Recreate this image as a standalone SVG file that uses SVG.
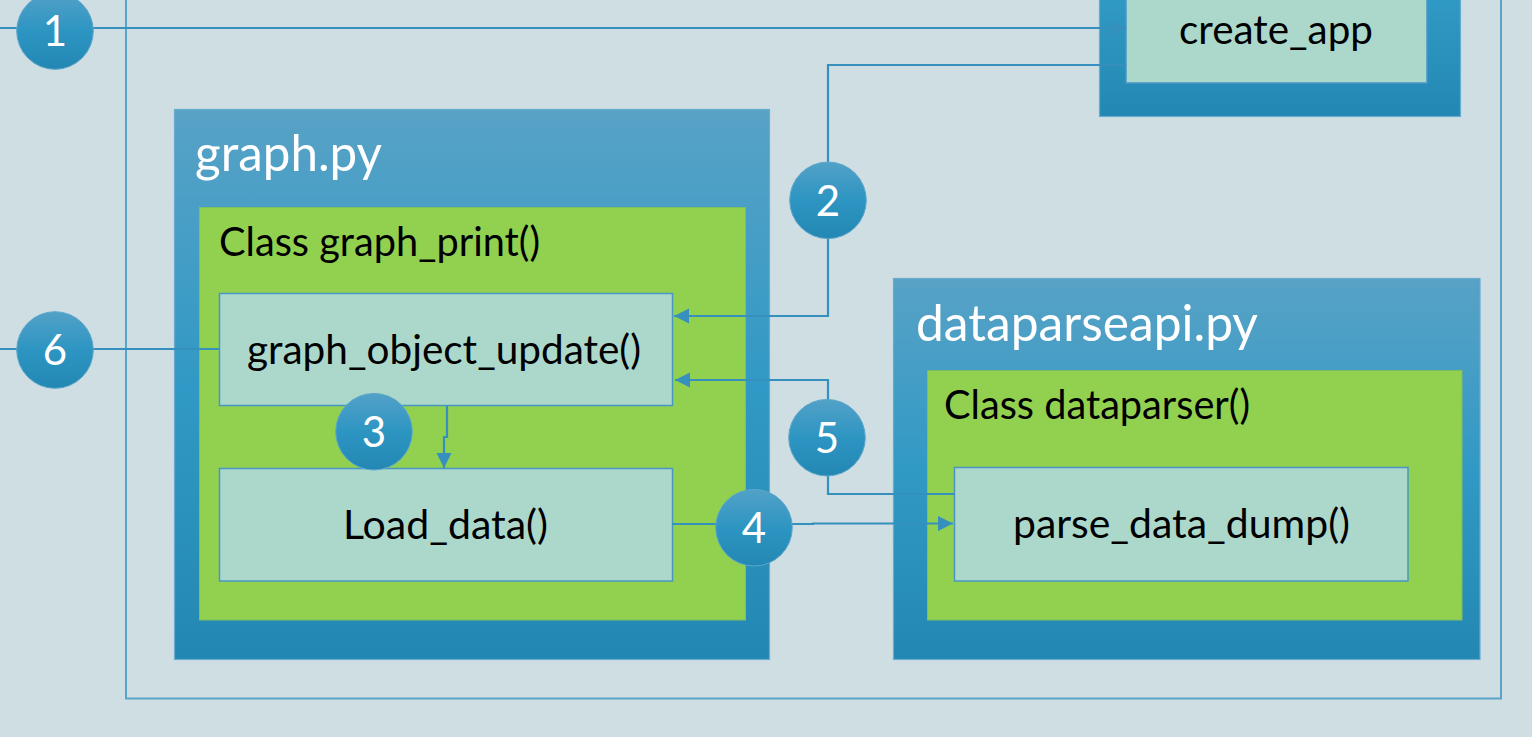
<svg xmlns="http://www.w3.org/2000/svg" width="1532" height="737" viewBox="0 0 1532 737">
  <defs>
    <linearGradient id="moduleFill" x1="0" y1="0" x2="0" y2="1">
      <stop offset="0" stop-color="#58A2C6"/>
      <stop offset="0.5" stop-color="#3199C5"/>
      <stop offset="1" stop-color="#2387B3"/>
    </linearGradient>
    <linearGradient id="badgeFill" x1="0" y1="0" x2="0" y2="1">
      <stop offset="0" stop-color="#52A1C7"/>
      <stop offset="0.5" stop-color="#2D95C2"/>
      <stop offset="1" stop-color="#2387B3"/>
    </linearGradient>
    <marker id="arrow" viewBox="0 0 16 16" refX="15" refY="8" markerWidth="16" markerHeight="16" markerUnits="userSpaceOnUse" orient="auto">
      <path d="M0,0.5 L15,8 L0,15.5 Z" fill="#3690BE"/>
    </marker>
    <style>
      .module { fill: url(#moduleFill); stroke: #67ABCE; stroke-width: 1.2; }
      .cls { fill: #92D050; stroke: #7FC05E; stroke-width: 1; }
      .fn { fill: #ACD8CC; stroke: #4897C3; stroke-width: 1.5; }
      .frame { fill: none; stroke: #5AA3C9; stroke-width: 2; }
      .wire { fill: none; stroke: #3690BE; stroke-width: 2.2; }
      .badge { fill: url(#badgeFill); stroke: #5CA6CB; stroke-width: 1; }
      .title { font-family: Lato, "Liberation Sans", sans-serif; font-size: 50px; fill: #FFFFFF; }
      .label { font-family: Lato, "Liberation Sans", sans-serif; font-size: 41px; fill: #000000; }
      .num { font-family: Lato, "Liberation Sans", sans-serif; font-size: 42px; fill: #FFFFFF; text-anchor: middle; }
    </style>
  </defs>

  <!-- canvas -->
  <rect x="0" y="0" width="1532" height="737" fill="#CFDEE3"/>

  <!-- application frame -->
  <rect class="frame" x="126" y="-20" width="1375" height="718.5"/>

  <!-- app entry point -->
  <g id="create-app">
    <rect class="module" x="1099.5" y="-120" width="361" height="236.5"/>
    <rect class="fn" x="1126" y="-20" width="301" height="103"/>
    <text class="label" x="1179" y="44" textLength="194" lengthAdjust="spacingAndGlyphs">create_app</text>
  </g>

  <!-- graph.py module -->
  <g id="graph-py">
    <rect class="module" x="174.5" y="109.5" width="595" height="550"/>
    <text class="title" x="195" y="171" textLength="187" lengthAdjust="spacingAndGlyphs">graph.py</text>
  </g>
  <g id="graph-print">
    <rect class="cls" x="199.5" y="207.5" width="546" height="412.5"/>
    <text class="label" x="219" y="256" textLength="321" lengthAdjust="spacingAndGlyphs">Class graph_print()</text>
  </g>
  <g id="graph-object-update">
    <rect class="fn" x="219.5" y="293.5" width="453" height="112"/>
    <text class="label" x="247" y="364" textLength="394" lengthAdjust="spacingAndGlyphs">graph_object_update()</text>
  </g>
  <g id="load-data">
    <rect class="fn" x="219.5" y="468.5" width="453" height="112.5"/>
    <text class="label" x="343" y="539" textLength="205" lengthAdjust="spacingAndGlyphs">Load_data()</text>
  </g>

  <!-- dataparseapi.py module -->
  <g id="dataparseapi-py">
    <rect class="module" x="893.5" y="278.5" width="586.5" height="381"/>
    <text class="title" x="916" y="341" textLength="342" lengthAdjust="spacingAndGlyphs">dataparseapi.py</text>
  </g>
  <g id="dataparser">
    <rect class="cls" x="927.5" y="370.5" width="534.5" height="249.5"/>
    <text class="label" x="944" y="419" textLength="306" lengthAdjust="spacingAndGlyphs">Class dataparser()</text>
  </g>
  <g id="parse-data-dump">
    <rect class="fn" x="954.5" y="467.5" width="453.5" height="113.5"/>
    <text class="label" x="1013" y="538" textLength="337" lengthAdjust="spacingAndGlyphs">parse_data_dump()</text>
  </g>

  <!-- call flow -->
  <g id="connectors">
    <path class="wire" d="M0,28 H1126" marker-end="url(#arrow)"/>
    <path class="wire" d="M1126,65 H828 V316 H674" marker-end="url(#arrow)"/>
    <path class="wire" d="M447,406 V437 H444 V468" marker-end="url(#arrow)"/>
    <path class="wire" d="M672,524 H813 V523.5 H953" marker-end="url(#arrow)"/>
    <path class="wire" d="M954,494 H828 V380 H675" marker-end="url(#arrow)"/>
    <path class="wire" d="M0,349 H219"/>
  </g>

  <!-- step badges -->
  <g id="step-1"><circle class="badge" cx="55" cy="31" r="38.3"/><text class="num" x="55" y="46">1</text></g>
  <g id="step-2"><circle class="badge" cx="828" cy="200.3" r="38.3"/><text class="num" x="828" y="215.5">2</text></g>
  <g id="step-3"><circle class="badge" cx="374" cy="431.7" r="38.3"/><text class="num" x="374" y="446.7">3</text></g>
  <g id="step-4"><circle class="badge" cx="754" cy="527.7" r="38.3"/><text class="num" x="754" y="542.7">4</text></g>
  <g id="step-5"><circle class="badge" cx="827" cy="437.7" r="38.3"/><text class="num" x="827" y="452.7">5</text></g>
  <g id="step-6"><circle class="badge" cx="55" cy="350" r="38.3"/><text class="num" x="55" y="365">6</text></g>
</svg>
